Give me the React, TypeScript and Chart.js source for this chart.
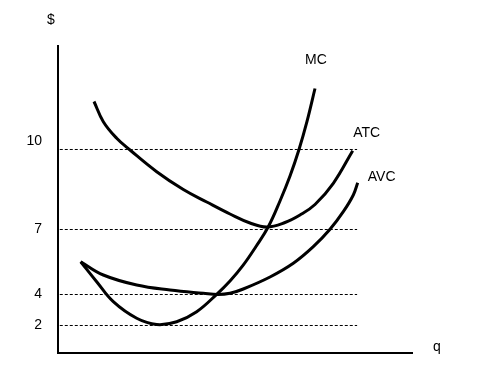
import React, { useEffect, useRef } from 'react';
import { Chart, registerables, LinearScale } from 'chart.js';

// ---- Data (quantity q on x, cost in $ on y) ----
const mcQ = [0.641, 1.093, 1.562, 2.223, 2.788, 3.353, 3.918, 4.483, 4.859, 5.226, 5.593, 5.941, 6.271, 6.554, 6.808, 7.034, 7.26];
const mcCost = [5.514, 4.591, 3.535, 2.465, 2.065, 2.245, 2.89, 4.009, 4.623, 5.343, 6.215, 7.101, 8.069, 9.006, 10.0, 11.086, 12.357];

const atcQ = [1.017, 1.28, 1.658, 2.034, 2.788, 3.54, 4.201, 4.859, 5.424, 5.904, 6.412, 6.836, 7.26, 7.777, 8.325];
const atcCost = [11.855, 11.074, 10.433, 9.981, 9.167, 8.5, 8.031, 7.581, 7.244, 7.094, 7.263, 7.544, 7.938, 8.733, 9.955];

const avcQ = [0.641, 1.28, 2.223, 3.164, 4.105, 4.52, 4.859, 5.234, 5.989, 6.647, 7.212, 7.684, 8.059, 8.342, 8.466];
const avcCost = [5.514, 4.9, 4.438, 4.208, 4.055, 4.0, 4.055, 4.254, 4.808, 5.44, 6.206, 7.008, 7.667, 8.294, 8.755];

const curveNames = ['MC', 'ATC', 'AVC'];
const yTickValues = [2, 4, 7, 10];
const guideLevels = [10, 7, 4, 2];
const guideStartQ = 0.05;
const guideEndQ = 8.45;
const xMax = 10;
const yMax = 14;
const xTitle = 'q';
const yTitle = '$';

// The drawing's $ axis is not to scale: piecewise mapping value -> fraction of axis height
const yBreakValues = [0, 2, 4, 7, 10, 14];
const yBreakFractions = [0, 0.08958, 0.19055, 0.40228, 0.66287, 1];

function valueToFraction(v: number): number {
  const n = yBreakValues.length;
  if (v <= yBreakValues[0]) {
    const s = (yBreakFractions[1] - yBreakFractions[0]) / (yBreakValues[1] - yBreakValues[0]);
    return yBreakFractions[0] + (v - yBreakValues[0]) * s;
  }
  for (let i = 1; i < n; i++) {
    if (v <= yBreakValues[i] || i === n - 1) {
      const v0 = yBreakValues[i - 1], v1 = yBreakValues[i];
      const f0 = yBreakFractions[i - 1], f1 = yBreakFractions[i];
      return f0 + ((v - v0) / (v1 - v0)) * (f1 - f0);
    }
  }
  return 1;
}

function fractionToValue(f: number): number {
  const n = yBreakFractions.length;
  for (let i = 1; i < n; i++) {
    if (f <= yBreakFractions[i] || i === n - 1) {
      const v0 = yBreakValues[i - 1], v1 = yBreakValues[i];
      const f0 = yBreakFractions[i - 1], f1 = yBreakFractions[i];
      return v0 + ((f - f0) / (f1 - f0)) * (v1 - v0);
    }
  }
  return yBreakValues[n - 1];
}

class PiecewiseScale extends LinearScale {
  static id = 'piecewise';
  getPixelForValue(value: any) {
    if (value === null || value === undefined || isNaN(value)) return NaN;
    return (this as any).getPixelForDecimal(valueToFraction(+value));
  }
  getValueForPixel(pixel: number) {
    return fractionToValue((this as any).getDecimalForPixel(pixel));
  }
}

Chart.register(...registerables, PiecewiseScale as any);

const FONT = '"Liberation Sans", Arial, Helvetica, sans-serif';

const curves = [
  { name: curveNames[0], q: mcQ, cost: mcCost },
  { name: curveNames[1], q: atcQ, cost: atcCost },
  { name: curveNames[2], q: avcQ, cost: avcCost },
];

const labelPlugin = {
  id: 'costLabels',
  afterDraw(chart: any) {
    const { ctx, chartArea, scales } = chart;
    const x = scales.x, y = scales.y;
    ctx.save();
    ctx.fillStyle = '#000';
    ctx.font = `14px ${FONT}`;
    ctx.textAlign = 'center';
    ctx.textBaseline = 'alphabetic';
    const offsets = [[1, -25], [14, -14], [24, -2]];
    curves.forEach((c, i) => {
      const n = c.q.length - 1;
      const px = x.getPixelForValue(c.q[n]);
      const py = y.getPixelForValue(c.cost[n]);
      ctx.fillText(c.name, px + offsets[i][0], py + offsets[i][1]);
    });
    ctx.fillText(yTitle, chartArea.left - 7, chartArea.top - 22);
    ctx.fillText(xTitle, chartArea.right + 25, chartArea.bottom - 2);
    ctx.restore();
  },
};

export default function App() {
  const canvasRef = useRef<HTMLCanvasElement | null>(null);

  useEffect(() => {
    if (!canvasRef.current) return;
    const guideSets = guideLevels.map((lvl) => ({
      label: `guide ${lvl}`,
      data: [
        { x: guideStartQ, y: lvl },
        { x: guideEndQ, y: lvl },
      ],
      borderColor: '#000',
      borderWidth: 1,
      borderDash: [3, 2],
      pointRadius: 0,
      fill: false,
    }));
    const curveSets = curves.map((c) => ({
      label: c.name,
      data: c.q.map((q, i) => ({ x: q, y: c.cost[i] })),
      borderColor: '#000',
      borderWidth: 3,
      pointRadius: 0,
      tension: 0.4,
      fill: false,
    }));

    const chart = new Chart(canvasRef.current, {
      type: 'line',
      data: { datasets: [...guideSets, ...curveSets] as any },
      options: {
        animation: false,
        responsive: false,
        maintainAspectRatio: false,
        layout: { padding: { left: 0, top: 46, right: 80, bottom: 0 } },
        plugins: { legend: { display: false }, tooltip: { enabled: false } },
        scales: {
          x: {
            type: 'linear',
            min: 0,
            max: xMax,
            grid: { display: false, drawTicks: false },
            ticks: { display: false },
            border: { display: true, color: '#000', width: 2 },
            afterFit: (s: any) => {
              s.height = 28;
            },
          },
          y: {
            type: 'piecewise' as any,
            min: 0,
            max: yMax,
            grid: { display: false, drawTicks: false },
            border: { display: true, color: '#000', width: 2 },
            ticks: {
              padding: 16,
              color: '#000',
              font: { family: FONT, size: 14 },
              // the top label sits a little above its guide line in the drawing
              callback: (v: any) => (v === 10 ? [String(v), ''] : String(v)),
            },
            afterBuildTicks: (s: any) => {
              s.ticks = yTickValues.map((v) => ({ value: v }));
            },
            afterFit: (s: any) => {
              s.width = 58;
            },
          } as any,
        },
      },
      plugins: [labelPlugin],
    });
    return () => chart.destroy();
  }, []);

  return (
    <div style={{ position: 'absolute', left: 0, top: 0, width: 492, height: 381, background: '#fff' }}>
      <canvas ref={canvasRef} width={492} height={381} style={{ display: 'block' }} />
    </div>
  );
}
